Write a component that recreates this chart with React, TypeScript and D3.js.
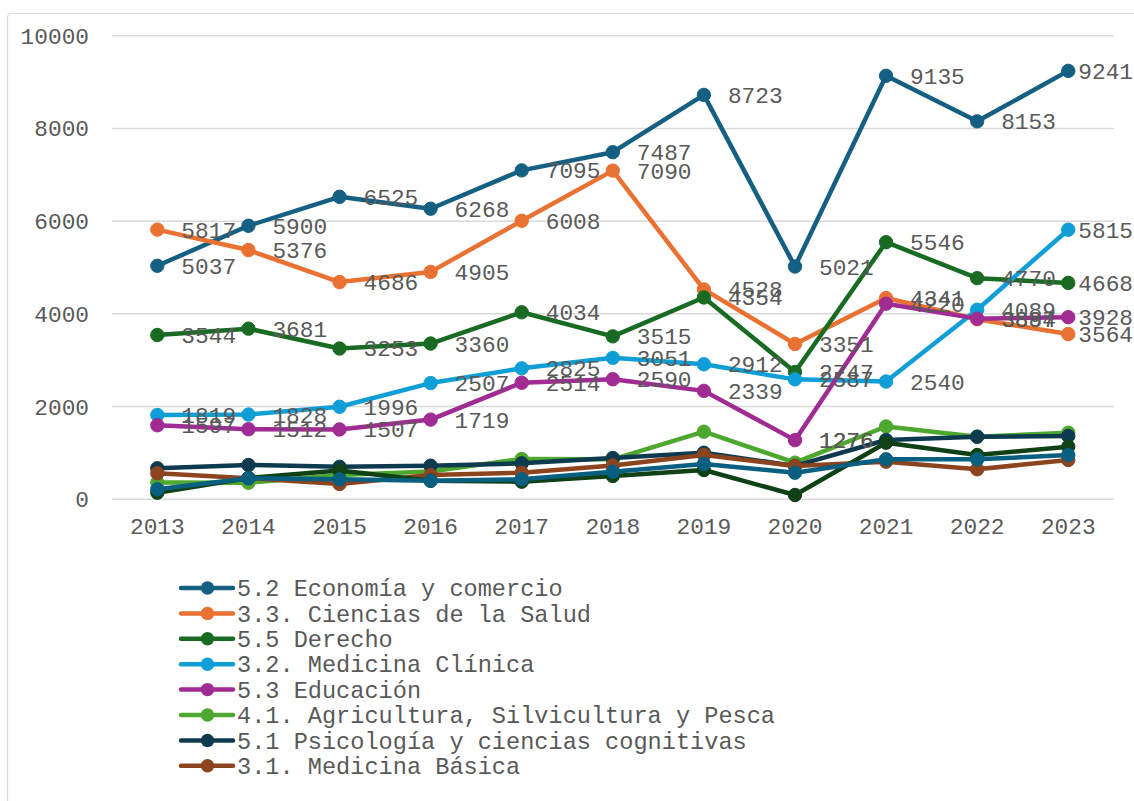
import React from "react";
import * as d3 from "d3";

const years = ["2013","2014","2015","2016","2017","2018","2019","2020","2021","2022","2023"];
const yTicks = [0, 2000, 4000, 6000, 8000, 10000];

const economia = [5037, 5900, 6525, 6268, 7095, 7487, 8723, 5021, 9135, 8153, 9241];
const cienciasSalud = [5817, 5376, 4686, 4905, 6008, 7090, 4528, 3351, 4341, 3884, 3564];
const derecho = [3544, 3681, 3253, 3360, 4034, 3515, 4354, 2747, 5546, 4770, 4668];
const medicinaClinica = [1819, 1828, 1996, 2507, 2825, 3051, 2912, 2587, 2540, 4089, 5815];
const educacion = [1597, 1512, 1507, 1719, 2514, 2590, 2339, 1276, 4220, 3897, 3928];
const agricultura = [360, 358, 524, 600, 870, 863, 1458, 790, 1570, 1350, 1437];
const psicologia = [669, 740, 700, 725, 776, 890, 1005, 720, 1279, 1350, 1365];
const medicinaBasica = [561, 455, 330, 524, 574, 730, 955, 718, 811, 647, 848];
const serie9 = [142, 460, 620, 400, 380, 503, 632, 93, 1221, 955, 1135];
const serie10 = [216, 453, 431, 401, 431, 595, 761, 574, 863, 863, 955];

const seriesNames = [
  "5.2 Economía y comercio",
  "3.3. Ciencias de la Salud",
  "5.5 Derecho",
  "3.2. Medicina Clínica",
  "5.3 Educación",
  "4.1. Agricultura, Silvicultura y Pesca",
  "5.1 Psicología y ciencias cognitivas",
  "3.1. Medicina Básica",
  "Serie 9",
  "Serie 10",
];
const seriesValues = [economia, cienciasSalud, derecho, medicinaClinica, educacion, agricultura, psicologia, medicinaBasica, serie9, serie10];
const seriesColors = ["#156082", "#E97132", "#196B24", "#0F9ED5", "#A02B93", "#4EA72E", "#0D3A4E", "#8C441E", "#0F4016", "#095F80"];
const labeledCount = 5;
const legendCount = 8;
const extraLabels: { s: number; i: number }[] = [{ s: 4, i: 7 }];

const W = 1134;
const H = 801;
const FONT = "'Liberation Mono', 'Courier New', monospace";

export default function App() {
  const x = d3.scaleBand<string>().domain(years).range([111.8, 1113.8]);
  const y = d3.scaleLinear().domain([0, 10000]).range([499.3, 35.7]);
  const cx = (yr: string) => (x(yr) as number) + x.bandwidth() / 2;
  const line = d3
    .line<number>()
    .x((_, i) => cx(years[i]))
    .y((v) => y(v));

  const fs = 22.8;
  const charW = fs * 0.6;

  const labels: React.ReactNode[] = [];
  seriesValues.forEach((vals, s) => {
    vals.forEach((v, i) => {
      const show = s < labeledCount;
      if (!show) return;
      const txt = String(v);
      let lx = cx(years[i]) + 24;
      const w = txt.length * charW;
      if (lx + w > 1133) lx = 1133 - w;
      labels.push(
        <text key={`l-${s}-${i}`} x={lx} y={y(v)} dy="0.35em" fontSize={fs} fill="#595959" fontFamily={FONT}>
          {txt}
        </text>
      );
    });
  });
  extraLabels.forEach(({ s, i }) => {
    const v = seriesValues[s][i];
    labels.push(
      <text key={`e-${s}-${i}`} x={cx(years[i]) + 24} y={y(v)} dy="0.35em" fontSize={fs} fill="#595959" fontFamily={FONT}>
        {String(v)}
      </text>
    );
  });

  return (
    <svg width={W} height={H} style={{ position: "absolute", left: 0, top: 0, background: "#fff" }}>
      <rect x={7.5} y={13.5} width={1140} height={800} rx={4} fill="#fff" stroke="#D9D9D9" strokeWidth={1.2} />
      {yTicks.map((t) => (
        <g key={`g-${t}`}>
          <line x1={111.8} x2={1113.8} y1={y(t)} y2={y(t)} stroke="#D9D9D9" strokeWidth={1.5} />
          <text x={89} y={y(t)} dy="0.35em" textAnchor="end" fontSize={fs} fill="#595959" fontFamily={FONT}>
            {t}
          </text>
        </g>
      ))}
      {years.map((yr) => (
        <text key={`x-${yr}`} x={cx(yr)} y={526} dy="0.35em" textAnchor="middle" fontSize={fs} fill="#595959" fontFamily={FONT}>
          {yr}
        </text>
      ))}
      {seriesValues.map((vals, s) => (
        <g key={`s-${s}`}>
          <path d={line(vals) as string} fill="none" stroke={seriesColors[s]} strokeWidth={4.5} strokeLinejoin="round" strokeLinecap="round" />
          {vals.map((v, i) => (
            <circle key={i} cx={cx(years[i])} cy={y(v)} r={6.7} fill={seriesColors[s]} stroke={seriesColors[s]} strokeWidth={1} />
          ))}
        </g>
      ))}
      {labels}
      {seriesNames.slice(0, legendCount).map((name, k) => {
        const ly = 588 + k * 25.4;
        return (
          <g key={`lg-${k}`}>
            <line x1={181} x2={233} y1={ly} y2={ly} stroke={seriesColors[k]} strokeWidth={4.5} strokeLinecap="round" />
            <circle cx={207.5} cy={ly} r={6.7} fill={seriesColors[k]} />
            <text x={237} y={ly} dy="0.35em" fontSize={23.6} fill="#595959" fontFamily={FONT}>
              {name}
            </text>
          </g>
        );
      })}
    </svg>
  );
}
